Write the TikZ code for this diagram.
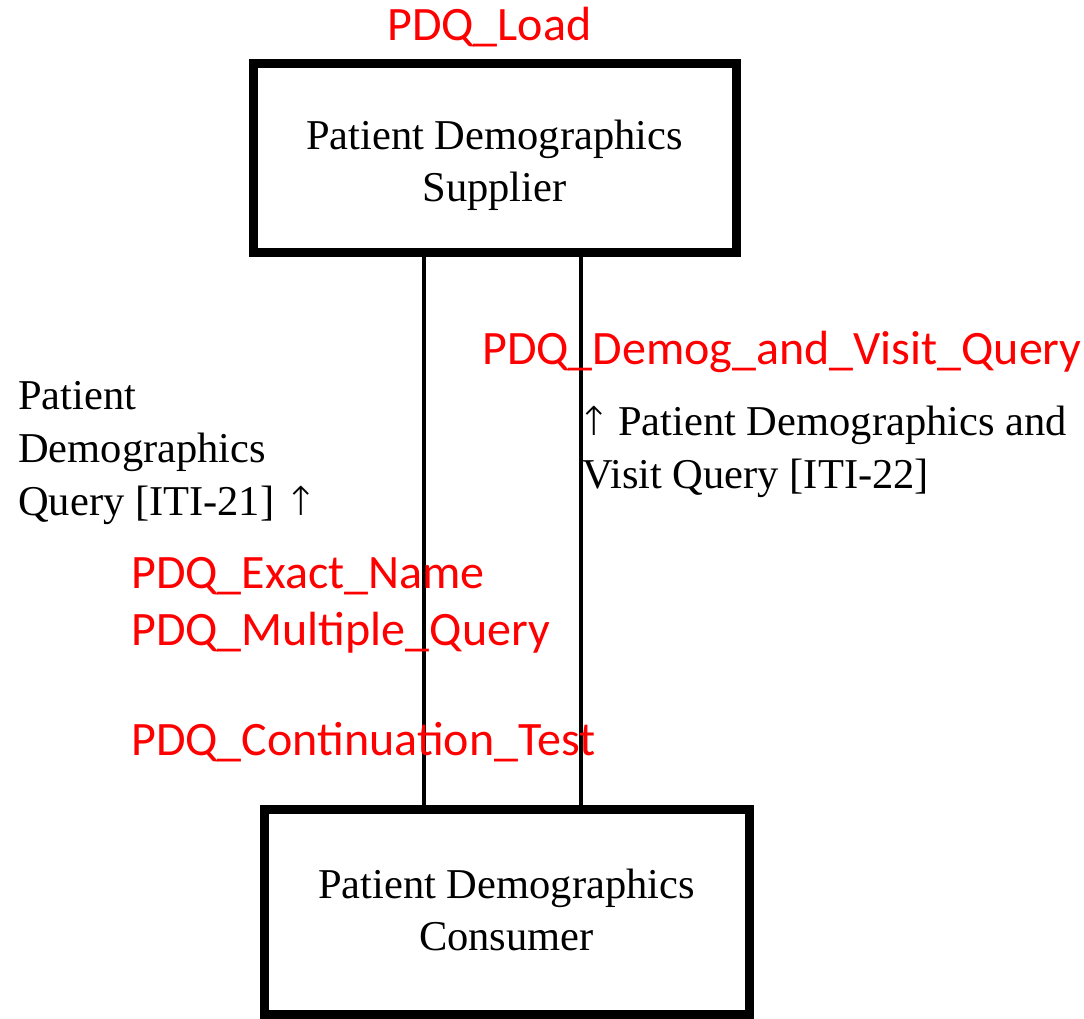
\documentclass[tikz,border=0pt]{standalone}
\usepackage{fontspec}
\setmainfont{Liberation Serif}
\newfontfamily\redfont{Carlito}
\newfontfamily\arrowfont{DejaVu Sans ExtraLight}
\newcommand{\uparr}{{\arrowfont\fontsize{40}{40}\selectfont ↑}}
\definecolor{pdqred}{RGB}{255,0,0}
\tikzset{
  actorbox/.style={draw=black, line width=9pt, fill=white, inner sep=0pt},
  boxtext/.style={align=center, inner sep=0pt, font=\fontsize{42.5}{52}\selectfont},
  txlabel/.style={anchor=base west, align=left, inner sep=0pt, font=\fontsize{42.5}{53}\selectfont},
  pdqlabel/.style={anchor=base west, align=left, inner sep=0pt, text=pdqred, font=\redfont\fontsize{48}{57}\selectfont},
  link/.style={draw=black, line width=4pt}
}
\begin{document}
\begin{tikzpicture}[x=1pt,y=-1pt]
\useasboundingbox (0,0) rectangle (1084,1018);
\node[actorbox, minimum width=483pt, minimum height=189pt] (sup) at (494.5,157.5) {};
\node[boxtext] (suptext) at ([yshift=-8pt]sup.center) {Patient Demographics\\Supplier};
\node[actorbox, minimum width=485pt, minimum height=205pt] (con) at (506.5,911.5) {};
\node[boxtext] (context) at ([yshift=2pt]con.center) {Patient Demographics\\Consumer};
\coordinate (la) at (424,0);
\coordinate (ra) at (581,0);
\draw[link] (sup.south -| la) -- (con.north -| la);
\draw[link] (sup.south -| ra) -- (con.north -| ra);
\node[pdqlabel] (load) at (387,40) {PDQ\_Load};
\node[pdqlabel] (visitq) at (482,364) {PDQ\_Demog\_and\_Visit\_Query};
\node[txlabel] (iti21) at (18,515) {Patient\\Demographics\\Query [ITI-21] \uparr};
\node[txlabel] (iti22) at (582,488) {\hspace{-5pt}\uparr\hspace{-3pt} Patient Demographics and\\Visit Query [ITI-22]};
\node[pdqlabel] (exact) at (131,645) {PDQ\_Exact\_Name\\PDQ\_Multiple\_Query};
\node[pdqlabel] (cont) at (131,755) {PDQ\_Continuation\_Test};
\end{tikzpicture}
\end{document}
